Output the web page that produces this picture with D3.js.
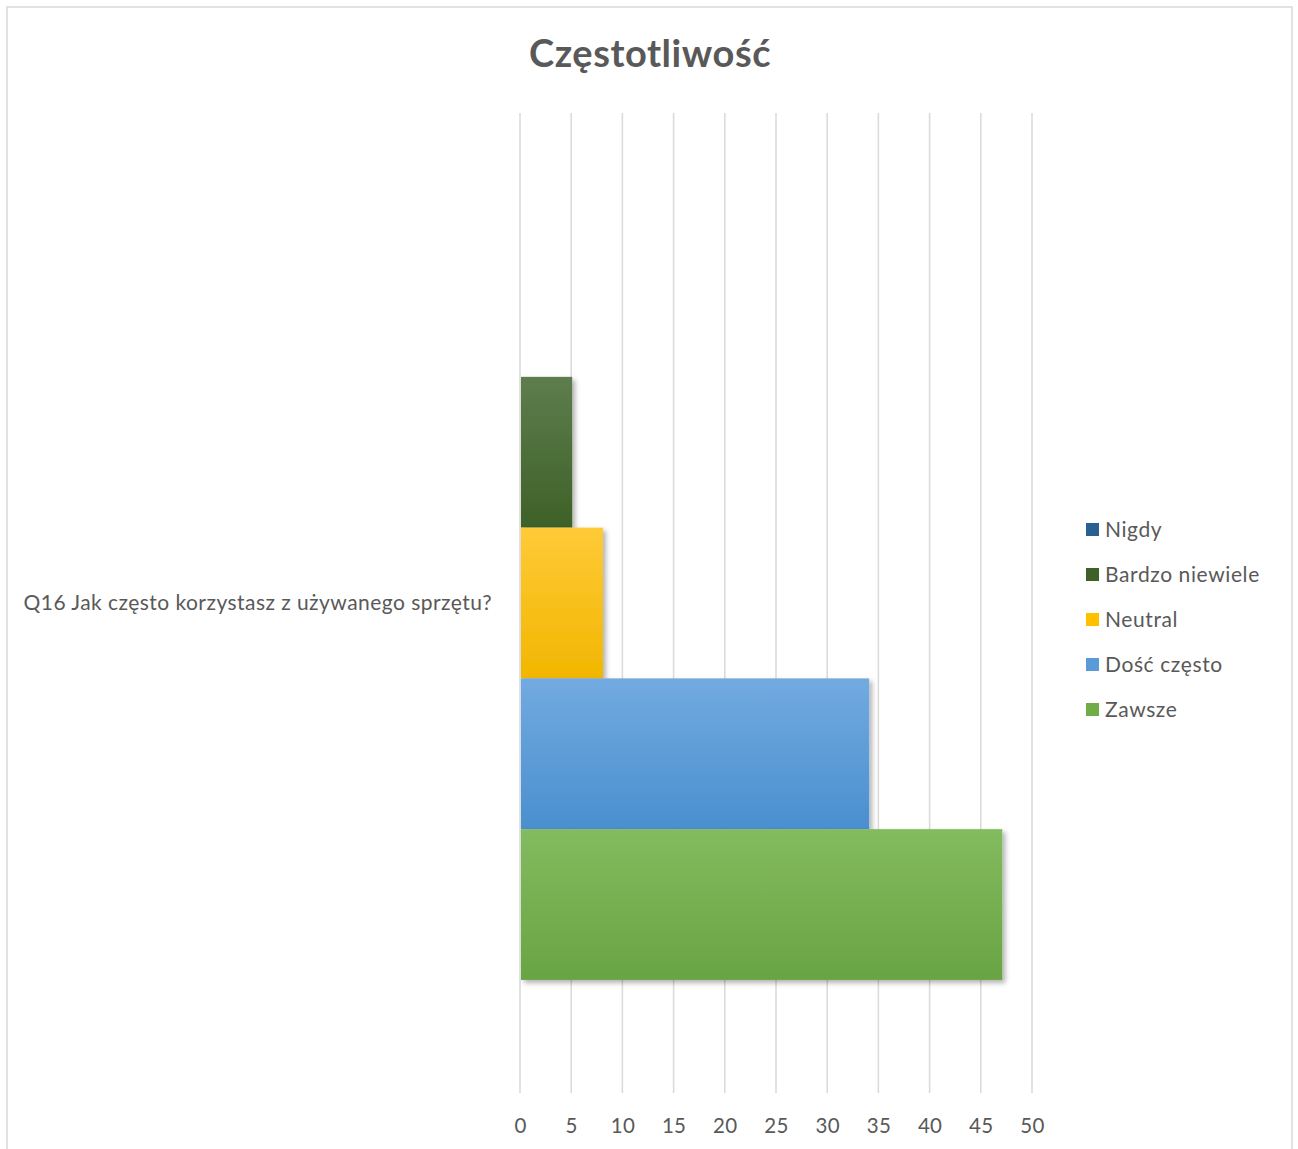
<!DOCTYPE html>
<html><head><meta charset="utf-8">
<script src="https://cdn.jsdelivr.net/npm/d3@7"></script>
<style>body{margin:0;background:#fff}svg{display:block}text{font-family:Lato,"Open Sans",sans-serif}</style>
</head><body>
<script>
const categories = ["Q16 Jak często korzystasz z używanego sprzętu?"];
const seriesNames = ["Nigdy", "Bardzo niewiele", "Neutral", "Dość często", "Zawsze"];
const seriesValues = [0, 5, 8, 34, 47];
const xTicks = [0, 5, 10, 15, 20, 25, 30, 35, 40, 45, 50];
const title = "Częstotliwość";

const colors = [
  ["#3a6fa0", "#245a8c"],
  ["#5e7d4d", "#3e6128"],
  ["#ffca38", "#f2b600"],
  ["#72aae0", "#4a8fcf"],
  ["#83bb5f", "#69a443"]
];
const legendColors = ["#2a5f91", "#3f6128", "#ffc000", "#5b9bd5", "#70ad47"];

const W = 1298, H = 1149;
const svg = d3.select("body").append("svg").attr("width", W).attr("height", H);
const defs = svg.append("defs");
const f = defs.append("filter").attr("id","sh").attr("x","-10%").attr("y","-10%").attr("width","130%").attr("height","130%");
f.append("feDropShadow").attr("dx",3).attr("dy",3).attr("stdDeviation",2.5).attr("flood-color","#000").attr("flood-opacity",0.3);
colors.forEach((c,i)=>{
  const g = defs.append("linearGradient").attr("id","g"+i).attr("x1",0).attr("y1",0).attr("x2",0).attr("y2",1);
  g.append("stop").attr("offset","0%").attr("stop-color",c[0]);
  g.append("stop").attr("offset","100%").attr("stop-color",c[1]);
});

// frame
svg.append("rect").attr("x",7).attr("y",7).attr("width",1285).attr("height",1160)
  .attr("fill","#fff").attr("stroke","#d9d9d9").attr("stroke-width",1.5);

const x = d3.scaleLinear().domain([0,50]).range([520,1032]);
const y0 = d3.scaleBand().domain(categories).range([113,1093]).paddingInner(0).paddingOuter(0);
// Excel gap width 150% -> band = n*bar + 1.5*bar
const n = seriesNames.length;
const barH = y0.bandwidth() / (n + 1.5);
const y1 = d3.scaleBand().domain(seriesNames).range([0, barH*n]);

// grid
svg.append("g").selectAll("line").data(xTicks).join("line")
  .attr("x1",d=>x(d)).attr("x2",d=>x(d)).attr("y1",113).attr("y2",1093)
  .attr("stroke","#d9d9d9").attr("stroke-width",1.5);

// bars
const cat = categories[0];
const gOff = y0(cat) + barH*0.75;
svg.append("g").selectAll("rect").data(seriesValues).join("rect")
  .attr("x", x(0)+1)
  .attr("y",(d,i)=>gOff + y1(seriesNames[i]))
  .attr("width",d=>Math.max(0,x(d)-x(0)))
  .attr("height",y1.bandwidth())
  .attr("fill",(d,i)=>`url(#g${i})`)
  .attr("filter","url(#sh)");

// x axis labels
const axis = d3.axisBottom(x).tickValues(xTicks).tickSize(0).tickPadding(0);
const ax = svg.append("g").attr("transform","translate(0,1118)").call(axis);
ax.select(".domain").remove();
ax.selectAll("text").attr("fill","#595959").style("font-size","20.5px").style("letter-spacing","0.3px").style("font-family","Lato,'Open Sans',sans-serif");

// category label
svg.append("text").attr("x",492).attr("y",y0(cat)+y0.bandwidth()/2).attr("dy","0.35em")
  .attr("text-anchor","end").attr("fill","#595959").style("font-size","21px").style("letter-spacing","0.45px").text(cat);

// title
svg.append("text").attr("x",650).attr("y",67).attr("text-anchor","middle")
  .attr("fill","#595959").style("font-size","38px").style("letter-spacing","0.55px").style("font-weight","bold").text(title);

// legend
const lg = svg.append("g");
seriesNames.forEach((s,i)=>{
  const yy = 530 + i*45;
  lg.append("rect").attr("x",1086).attr("y",yy-7).attr("width",13).attr("height",13).attr("fill",legendColors[i]);
  lg.append("text").attr("x",1105).attr("y",yy).attr("dy","0.35em").attr("fill","#595959")
    .style("font-size","21px").style("letter-spacing","0.6px").text(s);
});
</script>
</body></html>
